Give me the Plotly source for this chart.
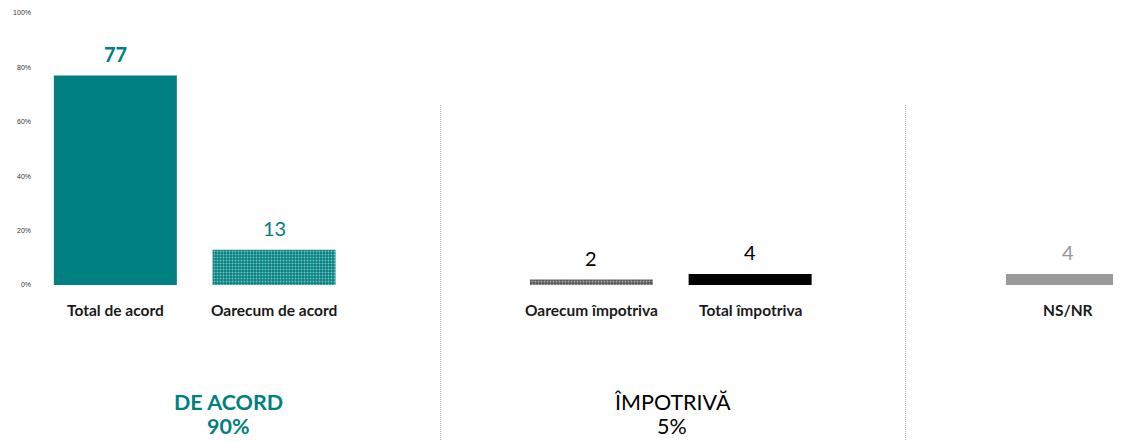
import plotly.graph_objects as go

categories = ["Total de acord", "Oarecum de acord", "Oarecum împotriva", "Total împotriva", "NS/NR"]
values = [77, 13, 2, 4, 4]
slots = [0, 1, 3, 4, 6]
group_titles = ["DE ACORD", "ÎMPOTRIVĂ"]
group_totals = ["90%", "5%"]
y_ticks = [0, 20, 40, 60, 80, 100]

TEAL = "#008080"
FONT = "Lato"

bar_colors = [TEAL, TEAL, "#555555", "#000000", "#999999"]
pattern_shapes = ["", ".", ".", "", ""]
pattern_fg = ["#ffffff", "#ffffff", "#ffffff", "#ffffff", "#ffffff"]
label_colors = [TEAL, TEAL, "#000000", "#000000", "#999999"]
label_bold = [True, False, False, False, False]

fig = go.Figure()
fig.add_trace(go.Bar(
    x=slots, y=values, width=0.775,
    marker=dict(
        color=bar_colors,
        line=dict(width=0),
        pattern=dict(shape=pattern_shapes, fgcolor=pattern_fg, size=3, solidity=0.35,
                     fillmode="overlay"),
    ),
    hoverinfo="skip",
))

annotations = []
for s, v, c, b in zip(slots, values, label_colors, label_bold):
    txt = f"<b>{v}</b>" if b else str(v)
    annotations.append(dict(x=s, y=v, xref="x", yref="y", text=txt, showarrow=False,
                            yanchor="bottom", yshift=8,
                            font=dict(family=FONT, size=20, color=c)))
for s, name in zip(slots, categories):
    annotations.append(dict(x=s, y=0, xref="x", yref="paper", text=f"<b>{name}</b>",
                            showarrow=False, yanchor="middle", yshift=-25,
                            font=dict(family=FONT, size=15.5, color="#1a1a1a")))

group_x = [0.712, 3.51]
group_colors = [TEAL, "#000000"]
group_bold = [True, False]
for gx, t, tot, c, b in zip(group_x, group_titles, group_totals, group_colors, group_bold):
    t1 = f"<b>{t}</b>" if b else t
    t2 = f"<b>{tot}</b>" if b else tot
    annotations.append(dict(x=gx, y=-0.43, xref="x", yref="paper", text=t1, showarrow=False,
                            yanchor="middle", font=dict(family=FONT, size=21.5, color=c)))
    annotations.append(dict(x=gx, y=-0.518, xref="x", yref="paper", text=t2, showarrow=False,
                            yanchor="middle", font=dict(family=FONT, size=21.5, color=c)))

shapes = []
for sx in [2.05, 4.98]:
    shapes.append(dict(type="line", xref="x", yref="paper", x0=sx, x1=sx, y0=0.662, y1=-0.6,
                       line=dict(color="#a6a6a6", width=1, dash="1px,1px")))

fig.update_layout(
    width=1113, height=433,
    margin=dict(l=28, r=0, t=5, b=156),
    plot_bgcolor="white", paper_bgcolor="white",
    showlegend=False,
    font=dict(family=FONT),
    xaxis=dict(range=[-0.5, 6.337], showticklabels=False, showgrid=False, zeroline=False,
               showline=False, fixedrange=True),
    yaxis=dict(range=[0, 100], tickvals=y_ticks, ticktext=[f"{t}%" for t in y_ticks],
               tickfont=dict(family="Liberation Sans", size=7, color="#333333"),
               showgrid=False, zeroline=False, showline=False, ticks="", ticklabelstandoff=4,
               fixedrange=True),
    annotations=annotations,
    shapes=shapes,
)

fig.write_html("out.html")
